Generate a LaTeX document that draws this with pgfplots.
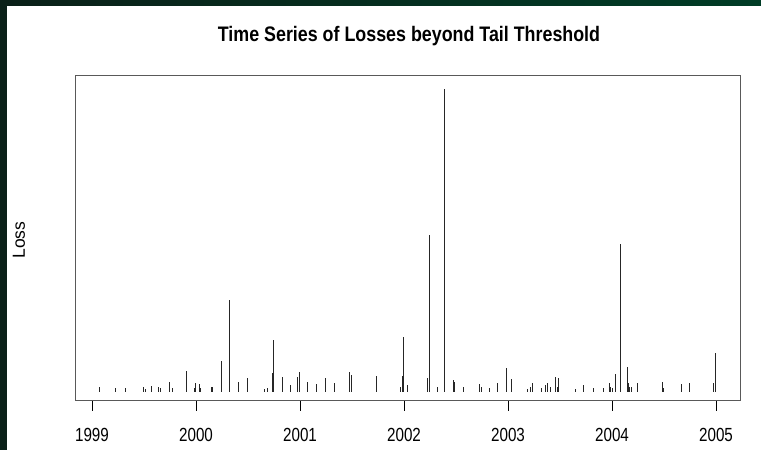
\documentclass[border=0pt]{standalone}
\usepackage{fontspec}
\setmainfont{Liberation Sans}[FakeStretch=0.8]
\newfontfamily\titlefont{Liberation Sans}[FakeStretch=0.85]
\newfontfamily\plainsans{Liberation Sans}
\usepackage{pgfplots}
\pgfplotsset{compat=1.18}
\usepackage{pgfplotstable}
\pgfplotstableread{
x h
1999.070 5
1999.221 4
1999.324 4
1999.490 5
1999.510 3
1999.567 6
1999.638 5
1999.661 4
1999.747 10
1999.772 4
1999.904 21
1999.984 4
1999.993 9
2000.032 8
2000.041 4
2000.151 5
2000.161 5
2000.240 31
2000.320 92
2000.407 10
2000.490 14
2000.657 3
2000.689 4
2000.734 19
2000.740 52
2000.827 15
2000.907 7
2000.978 15
2000.990 20
2001.067 10
2001.154 8
2001.240 14
2001.327 9
2001.478 20
2001.490 17
2001.734 16
2001.964 5
2001.984 16
2001.993 55
2002.036 7
2002.224 14
2002.240 157
2002.320 5
2002.385 303
2002.474 12
2002.484 10
2002.570 5
2002.721 8
2002.740 5
2002.820 4
2002.901 9
2002.988 24
2003.036 13
2003.186 3
2003.218 5
2003.238 9
2003.324 4
2003.363 7
2003.378 9
2003.404 5
2003.459 15
2003.478 5
2003.488 14
2003.647 3
2003.728 7
2003.824 4
2003.913 4
2003.971 9
2003.988 5
2004.003 4
2004.032 18
2004.080 148
2004.151 25
2004.157 9
2004.170 5
2004.183 5
2004.243 9
2004.484 10
2004.493 4
2004.663 8
2004.743 9
2004.974 9
2004.990 39
}\losses
\definecolor{frameA}{RGB}{10,32,24}
\definecolor{frameB}{RGB}{0,60,38}
\begin{document}
\begin{tikzpicture}[x=1pt,y=1pt]
\fill[white] (0,0) rectangle (761,450);
\shade[left color=frameA,right color=frameB] (0,444) rectangle (761,450);
\fill[frameA] (0,0) rectangle (7,450);
\begin{axis}[
  at={(75pt,49pt)}, anchor=south west,
  scale only axis, width=665pt, height=325pt,
  xmin=1998.8365, xmax=2005.2308,
  ymin=-9, ymax=316,
  axis line style={black!65, line width=1pt},
  xtick={1999,2000,2001,2002,2003,2004,2005},
  xticklabels={1999,2000,2001,2002,2003,2004,2005},
  xtick pos=bottom, tick align=outside,
  major tick length=10pt,
  x tick style={black, line width=0.8pt},
  ytick=\empty,
  xticklabel style={font=\fontsize{19}{21}\selectfont, yshift=-14pt},
  /pgf/number format/assume math mode=true,
  clip=false,
]
\addplot[ycomb, black!85, line width=0.9pt, mark=none] table[x=x,y=h] {\losses};
\end{axis}
\node[font=\titlefont\fontsize{21}{24}\selectfont\bfseries] at (409,414) {Time Series of Losses beyond Tail Threshold};
\node[rotate=90, font=\plainsans\fontsize{17.5}{20}\selectfont] at (19,210) {Loss};
\end{tikzpicture}
\end{document}
